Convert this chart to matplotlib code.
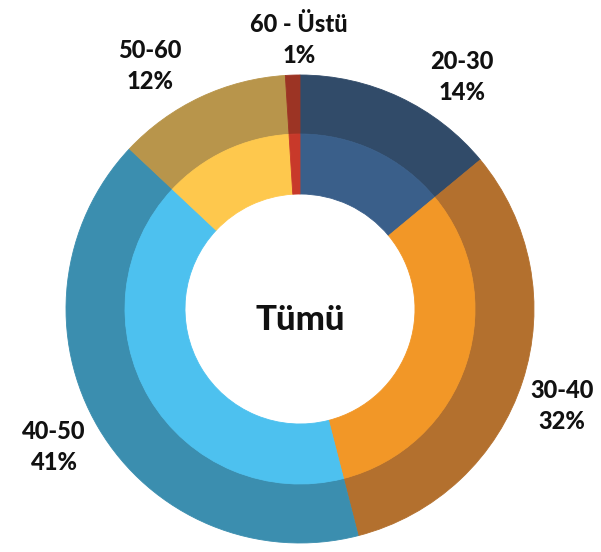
import matplotlib
matplotlib.use("Agg")
import matplotlib.pyplot as plt

# ---- data ---------------------------------------------------------------
categories = ["20-30", "30-40", "40-50", "50-60", "60 - Üstü"]
shares = [14, 32, 41, 12, 1]          # percent, same for both rings
center_label = "Tümü"

outer_colors = ["#314B69", "#B3702E", "#3B8EAF", "#B8954B", "#9C3424"]
inner_colors = ["#3A5F8A", "#F29727", "#4DC1EF", "#FEC84D", "#C8392A"]

# label block centres, pixels relative to the ring centre (x right, y up)
label_xy = [(162, 232), (262, -97), (-246, -138), (-150, 243), (-1, 269)]

R_OUT, R_MID, R_IN = 234, 175, 115   # px
CX, CY = 300, 309                    # ring centre in image px (from top-left)
W, H = 601, 552

plt.rcParams["font.family"] = ["Lato", "DejaVu Sans"]

fig = plt.figure(figsize=(W / 100, H / 100), dpi=100)
ax = fig.add_axes([0, 0, 1, 1])

wp = dict(linewidth=0.6)
w_out, _ = ax.pie(shares, radius=R_OUT, colors=outer_colors, startangle=90,
                  counterclock=False, wedgeprops=dict(width=R_OUT - R_MID, **wp))
w_in, _ = ax.pie(shares, radius=R_MID, colors=inner_colors, startangle=90,
                 counterclock=False, wedgeprops=dict(width=R_MID - R_IN, **wp))
for w in w_out + w_in:
    w.set_edgecolor(w.get_facecolor())

for cat, val, (x, y) in zip(categories, shares, label_xy):
    ax.text(x, y, f"{cat}\n{val}%", ha="center", va="center",
            fontsize=17, fontweight=900, linespacing=1.4, color="#111111")

ax.text(0, -11, center_label, ha="center", va="center",
        fontsize=25, fontweight=900, color="#111111")

ax.set_xlim(-CX, W - CX)
ax.set_ylim(-(H - CY), CY)
ax.set_aspect("equal")
ax.axis("off")

fig.savefig("out.png", dpi=100)
